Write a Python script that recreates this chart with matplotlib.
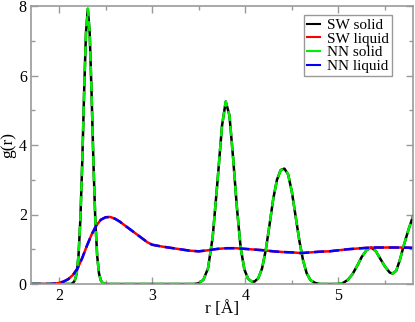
import matplotlib
matplotlib.use('Agg')
import matplotlib.pyplot as plt
from matplotlib.lines import Line2D

plt.rcParams['font.family'] = ['Liberation Serif', 'DejaVu Serif']

# solid phase g(r) (SW and NN lie on top of each other)
r_solid = [1.70, 2.10, 2.13, 2.15, 2.17, 2.19, 2.21, 2.23, 2.25, 2.27, 2.29, 2.31,
           2.33, 2.35, 2.37, 2.39, 2.41, 2.43, 2.45, 2.47, 2.50, 3.45, 3.50, 3.55,
           3.60, 3.65, 3.70, 3.75, 3.79, 3.83, 3.87, 3.91, 3.95, 3.99, 4.03, 4.07,
           4.10, 4.14, 4.18, 4.22, 4.26, 4.30, 4.34, 4.38, 4.42, 4.46, 4.50, 4.54,
           4.58, 4.62, 4.66, 4.70, 4.75, 4.80, 5.00, 5.05, 5.10, 5.15, 5.20, 5.25,
           5.30, 5.35, 5.40, 5.45, 5.50, 5.55, 5.58, 5.62, 5.66, 5.70, 5.75, 5.80]
g_sw_solid = [0.0, 0.0, 0.0, 0.03, 0.10, 0.30, 0.82, 1.86, 3.50, 5.50, 7.22, 7.92,
              7.22, 5.50, 3.50, 1.86, 0.82, 0.30, 0.10, 0.03, 0.0, 0.0, 0.02, 0.12,
              0.45, 1.35, 2.90, 4.55, 5.25, 4.85, 3.60, 2.20, 1.05, 0.42, 0.15, 0.07,
              0.07, 0.17, 0.45, 0.98, 1.70, 2.45, 3.00, 3.28, 3.32, 3.15, 2.65, 1.95,
              1.25, 0.68, 0.30, 0.11, 0.03, 0.0, 0.0, 0.03, 0.12, 0.28, 0.52, 0.78,
              0.97, 1.05, 0.95, 0.72, 0.50, 0.33, 0.30, 0.38, 0.70, 1.10, 1.55, 1.95]
g_nn_solid = list(g_sw_solid)

# liquid phase g(r)
r_liquid = [1.70, 1.90, 1.95, 2.00, 2.05, 2.10, 2.15, 2.20, 2.25, 2.30, 2.35, 2.40,
            2.45, 2.50, 2.55, 2.60, 2.65, 2.70, 2.75, 2.80, 2.85, 2.90, 2.95, 3.00,
            3.10, 3.20, 3.30, 3.40, 3.50, 3.60, 3.70, 3.80, 3.90, 4.00, 4.10, 4.20,
            4.30, 4.40, 4.50, 4.60, 4.70, 4.80, 4.90, 5.00, 5.10, 5.20, 5.30, 5.40,
            5.50, 5.60, 5.70, 5.80]
g_sw_liquid = [0.0, 0.0, 0.01, 0.03, 0.07, 0.14, 0.26, 0.45, 0.75, 1.10, 1.42, 1.68,
               1.85, 1.92, 1.93, 1.88, 1.80, 1.70, 1.60, 1.50, 1.40, 1.30, 1.20, 1.13,
               1.08, 1.04, 1.00, 0.96, 0.94, 0.97, 1.01, 1.03, 1.03, 1.01, 0.99, 0.97,
               0.94, 0.92, 0.91, 0.89, 0.91, 0.93, 0.94, 0.97, 1.00, 1.02, 1.04, 1.05,
               1.05, 1.05, 1.05, 1.04]
g_nn_liquid = list(g_sw_liquid)

fig = plt.figure(figsize=(4.15, 3.22), dpi=100)
ax = fig.add_axes([31/415, 1 - 284/322, 382/415, 278/322])

ax.plot(r_solid, g_sw_solid, color='black', lw=1.8)
ax.plot(r_liquid, g_sw_liquid, color='red', lw=1.8)
ax.plot(r_solid, g_nn_solid, color='#00ee00', lw=1.8, dashes=(4, 2))
ax.plot(r_liquid, g_nn_liquid, color='blue', lw=1.8, dashes=(4, 2))

ax.set_xlim(1.7, 5.8)
ax.set_ylim(0, 8)
ax.set_xticks([2, 3, 4, 5])
ax.set_xticks([2.5, 3.5, 4.5, 5.5], minor=True)
ax.set_yticks([0, 2, 4, 6, 8])
ax.set_yticks([1, 3, 5, 7], minor=True)
ax.tick_params(which='both', direction='in', top=True, right=True, color='#999999',
               labelsize=11.5, pad=3)
ax.tick_params(which='major', length=5, width=1)
ax.tick_params(which='minor', length=3, width=1)
for s in ax.spines.values():
    s.set_color('#999999')
    s.set_linewidth(1.2)

ax.set_xlabel('r [Å]', fontsize=12.5)
ax.set_ylabel('g(r)', fontsize=12.5)
ax.xaxis.set_label_coords(0.5, -0.062)
ax.yaxis.set_label_coords(-0.039, 0.5)

handles = [Line2D([], [], color=c, lw=1.5) for c in ['black', 'red', '#00ee00', 'blue']]
leg = ax.legend(handles, ['SW solid', 'SW liquid', 'NN solid', 'NN liquid'],
                loc='upper right', bbox_to_anchor=(0.945, 0.968), fontsize=11,
                fancybox=False, framealpha=1, edgecolor='#999999',
                handlelength=0.85, handletextpad=0.45, labelspacing=0.0,
                borderpad=0.22, borderaxespad=0)
leg.get_frame().set_linewidth(1.0)

fig.savefig('out.png', dpi=100)
